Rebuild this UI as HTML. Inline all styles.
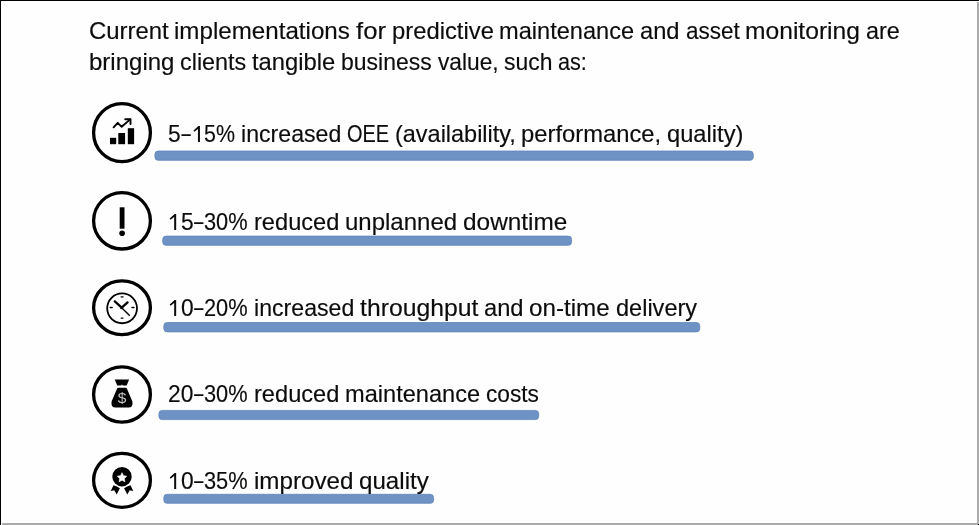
<!DOCTYPE html>
<html>
<head>
<meta charset="utf-8">
<title>Predictive maintenance value</title>
<style>
  html, body { margin: 0; padding: 0; }
  body {
    width: 979px; height: 525px; overflow: hidden; position: relative;
    background: #fefefe;
    font-family: "Liberation Sans", sans-serif;
    color: #0c0c0c;
  }
  #frame { position: absolute; left: 0; top: 0; width: 979px; height: 525px; }
  .bR { position: absolute; left: 977px; top: 2px; width: 2px; height: 523px; background: #ababab; }
  .bB { position: absolute; left: 2px; top: 523px; width: 977px; height: 2px; background: #ababab; }
  .bT { position: absolute; left: 0; top: 0; width: 979px; height: 1.4px; background: #000; }
  .bL { position: absolute; left: 0; top: 0; width: 1.4px; height: 525px; background: #000; }
  .bC { position: absolute; left: 978px; top: 524px; width: 1px; height: 1px; background: #000; }
  svg#art { position: absolute; left: 0; top: 0; filter: blur(0.5px); }
  .t { position: absolute; left: 0; height: 30px; width: 979px; filter: blur(0.55px); }
  .t span {
    position: absolute; top: 0; white-space: pre;
    font-size: 23.4px; line-height: 30px; height: 30px;
    transform-origin: 0 0;
    -webkit-text-stroke: 0.15px #0c0c0c;
  }
</style>
</head>
<body>
<div id="frame">
  <div class="bR"></div><div class="bB"></div><div class="bT"></div><div class="bL"></div><div class="bC"></div>
</div>

<svg id="art" width="979" height="525" viewBox="0 0 979 525">
  <!-- blue underlines -->
  <g fill="#6e92c3" stroke="#6186bb" stroke-width="0.8">
    <rect x="154.9" y="151.0" width="598.4" height="9.3" rx="3.4"/>
    <rect x="162.7" y="236.1" width="408.9" height="9.2" rx="3.4"/>
    <rect x="163.8" y="322.5" width="536" height="9.4" rx="3.4"/>
    <rect x="158.9" y="410.4" width="379.8" height="9.2" rx="3.4"/>
    <rect x="163.8" y="494.3" width="269.8" height="9.0" rx="3.4"/>
  </g>

  <!-- circles -->
  <g fill="none" stroke="#000" stroke-width="3.3">
    <ellipse cx="122" cy="132.7" rx="28.4" ry="29"/>
    <ellipse cx="122" cy="220.8" rx="28.4" ry="28.2"/>
    <ellipse cx="122" cy="307.8" rx="28.4" ry="26.9"/>
    <ellipse cx="122" cy="394.5" rx="28.4" ry="27.6"/>
    <ellipse cx="122" cy="480.3" rx="28.4" ry="27"/>
  </g>

  <!-- icon 1: bar chart with arrow -->
  <g fill="#000">
    <rect x="110" y="137.8" width="6.2" height="6.4"/>
    <rect x="118.3" y="133" width="6.8" height="11.2"/>
    <rect x="127.8" y="128.2" width="6.3" height="16"/>
  </g>
  <g fill="none" stroke="#000" stroke-width="1.9" stroke-linecap="round" stroke-linejoin="round">
    <polyline points="113.6,127.3 117.7,122.8 121.7,126.8 130.2,119.4"/>
    <polyline points="125.2,119.2 130.5,119.2 130.5,124"/>
  </g>

  <!-- icon 2: exclamation -->
  <g fill="#000">
    <rect x="119.7" y="207.3" width="4.8" height="21.4"/>
    <circle cx="122.1" cy="233.2" r="2.8"/>
  </g>

  <!-- icon 3: clock -->
  <g fill="none" stroke="#000" stroke-linecap="round">
    <circle cx="122.1" cy="308.35" r="14.9" stroke-width="1.8"/>
    <path d="M121.7 307.7 L114.8 301.4 M121.7 307.7 L127.6 302.4" stroke-width="2.3"/>
    <path d="M121.7 307.7 L129.3 315.3" stroke-width="1.4"/>
    <path d="M121.2 296.9 h1.8 M121.2 318.1 h1.8 M110.2 307.5 h2 M132 307.5 h2" stroke-width="1.4"/>
  </g>
  <circle cx="121.7" cy="307.7" r="1.6" fill="#000"/>

  <!-- icon 4: money bag -->
  <g fill="#000">
    <path d="M114.7 379.6 H129.1 L126.7 385.4 H122.6 L122 384.3 L121.4 385.4 H117.3 Z"/>
    <path d="M118.6 387.8 H125.4 Q126.6 387.8 127.1 389 L132.4 401.5 Q133.4 407.6 128.5 407.6 H115.5 Q110.6 407.6 111.6 401.5 L116.9 389 Q117.4 387.8 118.6 387.8 Z"/>
  </g>
  <text x="122" y="403.3" text-anchor="middle" font-family="Liberation Sans, sans-serif" font-size="15.5" fill="#c4c4c4">$</text>

  <!-- icon 5: award ribbon -->
  <g fill="#000">
    <circle cx="122.0" cy="476.7" r="9.7"/>
    <path d="M113.5 485.3 L110.7 490.9 L114.3 490.2 L116.7 494.6 L119.9 488.3 Q117.1 486.3 113.5 485.3 Z"/>
    <path d="M130.5 485.3 L133.3 490.9 L129.7 490.2 L127.3 494.6 L124.1 488.3 Q126.9 486.3 130.5 485.3 Z"/>
  </g>
  <path id="star" fill="#fff" stroke="#fff" stroke-width="0.6" stroke-linejoin="round" d="M122.00 472.70 L123.47 475.68 L126.76 476.15 L124.38 478.47 L124.94 481.75 L122.00 480.20 L119.06 481.75 L119.62 478.47 L117.24 476.15 L120.53 475.68 Z"/>
  <!--GLYPHS--><g id="glyphs" fill="#0c0c0c">
    <rect x="181.43" y="134.25" width="9.32" height="1.75"/>
    <path d="M197.95 142.00 L197.95 129.01 L194.34 131.81 L193.47 130.55 L198.40 125.90 L199.95 125.90 L199.95 142.00 Z"/>
    <path d="M174.17 230.00 L174.17 217.01 L170.56 219.81 L169.69 218.55 L174.62 213.90 L176.17 213.90 L176.17 230.00 Z"/>
    <rect x="194.11" y="222.25" width="9.32" height="1.75"/>
    <path d="M174.17 316.00 L174.17 303.01 L170.56 305.81 L169.69 304.55 L174.62 299.90 L176.17 299.90 L176.17 316.00 Z"/>
    <rect x="194.11" y="308.25" width="9.32" height="1.75"/>
    <rect x="194.11" y="394.25" width="9.32" height="1.75"/>
    <path d="M174.17 489.00 L174.17 476.01 L170.56 478.81 L169.69 477.55 L174.62 472.90 L176.17 472.90 L176.17 489.00 Z"/>
    <rect x="194.11" y="481.25" width="9.32" height="1.75"/>
  </g><!--/GLYPHS-->
</svg>

<!--TEXT-->
<div class="t" id="l1" style="top:16px"><span style="left:88.95px;transform:scaleX(1.0210)">Current</span><span style="left:174.35px;transform:scaleX(1.0324)">implementations</span><span style="left:355.97px;transform:scaleX(1.0983)">for</span><span style="left:391.71px;transform:scaleX(1.0178)">predictive</span><span style="left:499.37px;transform:scaleX(1.0086)">maintenance</span><span style="left:640.22px;transform:scaleX(1.0135)">and</span><span style="left:685.54px;transform:scaleX(0.9620)">asset</span><span style="left:745.10px;transform:scaleX(1.0526)">monitoring</span><span style="left:865.83px;transform:scaleX(1.0011)">are</span></div>
<div class="t" id="l2" style="top:47px"><span style="left:88.95px;transform:scaleX(1.0264)">bringing</span><span style="left:180.15px;transform:scaleX(0.9995)">clients</span><span style="left:252.19px;transform:scaleX(1.0157)">tangible</span><span style="left:341.18px;transform:scaleX(0.9819)">business</span><span style="left:437.60px;transform:scaleX(0.9705)">value,</span><span style="left:503.94px;transform:scaleX(0.9791)">such</span><span style="left:558.09px;transform:scaleX(0.9240)">as:</span></div>
<div class="t" id="i1" style="top:119px"><span style="left:167.85px;transform:scaleX(0.9748)">5</span><span style="left:204.32px;transform:scaleX(0.9155)">5%</span><span style="left:241.04px;transform:scaleX(0.9887)">increased</span><span style="left:347.08px;transform:scaleX(0.8502)">OEE</span><span style="left:394.85px;transform:scaleX(1.0029)">(availability,</span><span style="left:521.44px;transform:scaleX(1.0169)">performance,</span><span style="left:667.34px;transform:scaleX(1.0127)">quality)</span></div>
<div class="t" id="i2" style="top:207px"><span style="left:180.54px;transform:scaleX(0.9748)">5</span><span style="left:204.32px;transform:scaleX(0.9320)">30%</span><span style="left:253.73px;transform:scaleX(1.0095)">reduced</span><span style="left:344.83px;transform:scaleX(1.0256)">unplanned</span><span style="left:462.67px;transform:scaleX(1.0430)">downtime</span></div>
<div class="t" id="i3" style="top:293px"><span style="left:180.54px;transform:scaleX(0.9748)">0</span><span style="left:204.32px;transform:scaleX(0.9320)">20%</span><span style="left:253.73px;transform:scaleX(0.9887)">increased</span><span style="left:359.77px;transform:scaleX(1.0581)">throughput</span><span style="left:483.89px;transform:scaleX(1.0135)">and</span><span style="left:529.22px;transform:scaleX(1.0346)">on-time</span><span style="left:615.68px;transform:scaleX(1.0058)">delivery</span></div>
<div class="t" id="i4" style="top:379px"><span style="left:167.85px;transform:scaleX(0.9748)">20</span><span style="left:204.32px;transform:scaleX(0.9320)">30%</span><span style="left:253.73px;transform:scaleX(1.0095)">reduced</span><span style="left:344.83px;transform:scaleX(1.0086)">maintenance</span><span style="left:485.68px;transform:scaleX(0.9703)">costs</span></div>
<div class="t" id="i5" style="top:466px"><span style="left:180.54px;transform:scaleX(0.9748)">0</span><span style="left:204.32px;transform:scaleX(0.9320)">35%</span><span style="left:253.73px;transform:scaleX(1.0340)">improved</span><span style="left:358.97px;transform:scaleX(1.0321)">quality</span></div>
<!--/TEXT-->
</body>
</html>
